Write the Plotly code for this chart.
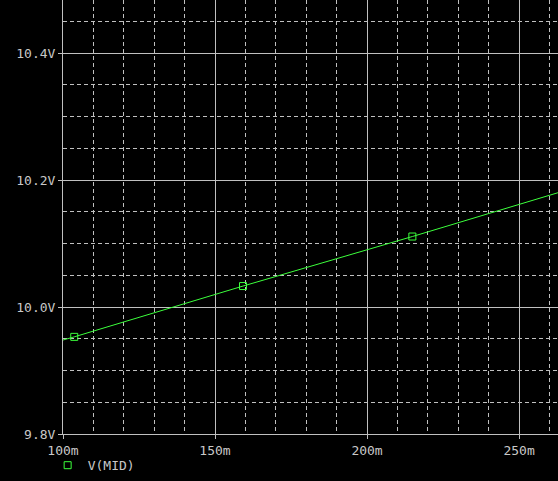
import plotly.graph_objects as go

# Data
line_x = [100.0, 103.7, 159.2, 214.9, 262.8]          # time (ms)
line_y = [9.948, 9.953, 10.033, 10.111, 10.180]       # V(MID)
marker_x = [103.7, 159.2, 214.9]
marker_y = [9.953, 10.033, 10.111]
x_ticks = [100, 150, 200, 250]
x_labels = ["100m", "150m", "200m", "250m"]
y_ticks = [9.8, 10.0, 10.2, 10.4]
y_labels = ["9.8V", "10.0V", "10.2V", "10.4V"]

GREEN = "#3cff3c"
GRID = "#c0c0c0"
TEXT = "#c8c8c8"
FONT = "DejaVu Sans Mono"

fig = go.Figure()
fig.add_trace(go.Scatter(x=line_x, y=line_y, mode="lines",
                         line=dict(color=GREEN, width=1), showlegend=False,
                         hoverinfo="skip"))
fig.add_trace(go.Scatter(x=marker_x, y=marker_y, mode="markers", name="V(MID)",
                         marker=dict(symbol="square-open", size=7,
                                     color=GREEN, line=dict(color=GREEN, width=1))))

fig.update_layout(
    width=558, height=481,
    margin=dict(l=63, r=0, t=0, b=47, autoexpand=False),
    paper_bgcolor="black", plot_bgcolor="black",
    font=dict(family=FONT, size=13, color=TEXT),
    legend=dict(x=-0.031, xanchor="left", y=-0.072, yanchor="middle",
                bgcolor="rgba(0,0,0,0)", font=dict(family=FONT, size=13, color=TEXT),
                itemwidth=30),
    showlegend=True,
)
fig.update_xaxes(
    range=[100, 262.8], tickmode="array", tickvals=x_ticks, ticktext=x_labels,
    showgrid=True, gridcolor=GRID, gridwidth=1,
    showline=True, linecolor=GRID, linewidth=1,
    ticks="outside", ticklen=4, tickcolor=GRID, zeroline=False,
    minor=dict(dtick=10, tick0=100, showgrid=True, gridcolor=GRID,
               griddash="4px,3px", gridwidth=1),
)
fig.update_yaxes(
    range=[9.8, 10.4835], tickmode="array", tickvals=y_ticks, ticktext=y_labels,
    showgrid=True, gridcolor=GRID, gridwidth=1,
    showline=True, linecolor=GRID, linewidth=1,
    ticks="outside", ticklen=4, tickcolor=GRID, zeroline=False,
    minor=dict(dtick=0.05, tick0=9.8, showgrid=True, gridcolor=GRID,
               griddash="4px,3px", gridwidth=1),
)

fig.write_html("out.html",
               config={"displayModeBar": False},
               post_script="document.body.style.margin='0';"
                           "document.body.style.overflow='hidden';"
                           "document.body.style.background='black';")
